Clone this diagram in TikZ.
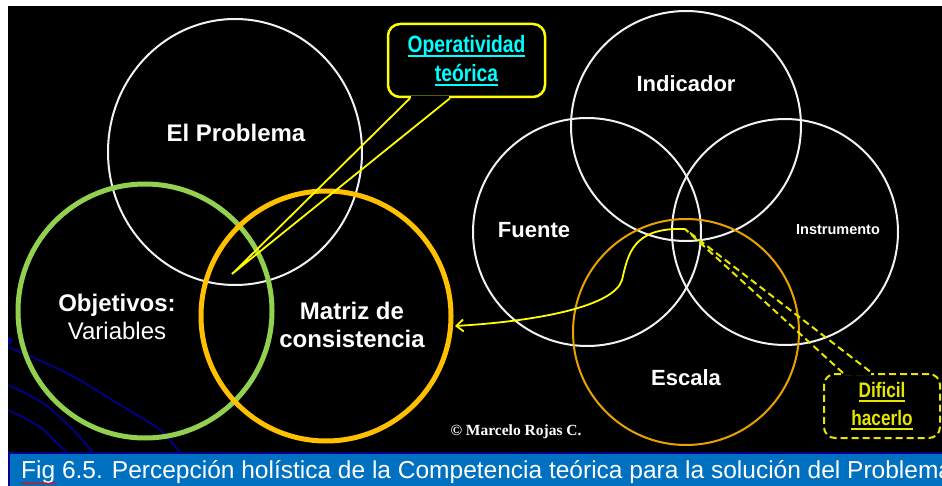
\documentclass[tikz,border=0pt]{standalone}
\usepackage{fontspec}
\setmainfont{Liberation Sans}
\newfontfamily\narrowfont[FakeStretch=0.82]{Liberation Sans}
\newfontfamily\copyfont{Liberation Serif}
\newcommand\thickul[1]{\setbox0\hbox{#1}\leavevmode\rlap{\vrule height -2.2pt depth 4pt width \wd0}\box0}
\usetikzlibrary{arrows.meta,decorations.pathmorphing,calc}
\definecolor{capblue}{HTML}{0070C0}
\definecolor{navyline}{HTML}{00008B}
\definecolor{ringwhite}{HTML}{F2F2F2}
\definecolor{ringgreen}{HTML}{92D050}
\definecolor{ringorange}{HTML}{FFC000}
\definecolor{escorange}{HTML}{E8A300}
\definecolor{calloutyellow}{HTML}{FFFF00}
\definecolor{dashyellow}{HTML}{E6E600}
\definecolor{textcyan}{HTML}{00FFFF}
\definecolor{bgline}{HTML}{000099}
\begin{document}
\begin{tikzpicture}[x=1pt,y=-1pt,
  whitering/.style={draw=ringwhite, line width=2pt},
  thickring/.style={line width=5pt},
  biglabel/.style={text=white, inner sep=0pt, align=center, font=\bfseries\fontsize{24}{28}\selectfont},
  midlabel/.style={text=white, inner sep=0pt, align=center, font=\bfseries\fontsize{22}{26}\selectfont},
  optbox/.style={draw=calloutyellow, line width=2.5pt, rounded corners=12pt, fill=black, text=textcyan, align=center, inner sep=0pt, font=\narrowfont\bfseries\fontsize{23.5}{29}\selectfont},
  difbox/.style={draw=dashyellow, line width=2pt, dash pattern=on 7pt off 4pt, rounded corners=11pt, fill=black, text=dashyellow, align=center, inner sep=0pt, font=\narrowfont\bfseries\fontsize{21}{28}\selectfont},
  bgcurve/.style={draw=bgline, line width=1.6pt}
]
\useasboundingbox (0,0) rectangle (942,486);
\fill[white] (0,0) rectangle (942,486);
\fill[black] (8,6) rectangle (942,452);

% faint background curves
\begin{scope}
\clip (8,6) rectangle (942,452);
\fill[bgline] (8,341) circle [radius=4pt];
\draw[bgcurve] plot[smooth] coordinates {(8,347) (67,373) (117,403) (160,430) (182,455)};
\draw[bgcurve] plot[smooth] coordinates {(8,385) (43,403) (73,430) (95,455)};
\draw[bgcurve] plot[smooth] coordinates {(8,410) (40,427) (69,455)};
\end{scope}

% left group of circles
\draw[whitering] (235,152) ellipse [x radius=127pt, y radius=133pt];
\draw[thickring, draw=ringgreen] (145,311) circle [radius=127pt];
\draw[thickring, draw=ringorange] (326,316) circle [radius=125pt];

% right group of circles
\draw[whitering] (686,126) circle [radius=115pt];
\draw[whitering] (587,232) circle [radius=114pt];
\draw[whitering] (785,232) circle [radius=113pt];
\draw[draw=escorange, line width=2pt] (686,332) circle [radius=113pt];

% labels
\node[biglabel] (lprob) at (236,133) {El Problema};
\node[biglabel] (lobj) at (117,317) {Objetivos:\\\mdseries Variables};
\node[biglabel] (lmat) at (352,325) {Matriz de\\consistencia};
\node[midlabel] (lind) at (686,84) {Indicador};
\node[midlabel] (lfue) at (534,230) {Fuente};
\node[text=white, inner sep=0pt, font=\bfseries\fontsize{14.5}{17}\selectfont] (lins) at (838,230) {Instrumento};
\node[midlabel] (lesc) at (686,378) {Escala};

% tips
\coordinate (tipA) at (232,274);
\coordinate (tipB) at (685,229);

% Operatividad callout
\node[optbox, minimum width=157pt, minimum height=73pt] (opt) at (466.5,60.5) {\thickul{Operatividad}\\\thickul{teórica}};
\draw[black, line width=4pt] ([xshift=-55.5pt]opt.south) -- ([xshift=-17.5pt]opt.south);
\draw[calloutyellow, line width=1.8pt, line join=miter] ([xshift=-56.5pt]opt.south) -- (tipA) -- ([xshift=-16.5pt]opt.south);

% Dificil callout
\node[difbox, minimum width=116pt, minimum height=64pt] (dif) at (882,406) {\thickul{Dificil}\\\thickul{hacerlo}};
\draw[black, line width=4pt] ([xshift=-38pt]dif.north) -- ([xshift=-11pt]dif.north);
\draw[dashyellow, line width=2pt, dash pattern=on 7pt off 4pt] ([xshift=-39pt]dif.north) -- (tipB) -- ([xshift=-10pt]dif.north);

% curved arrow
\coordinate (arrEnd) at (455,326);
\draw[calloutyellow, line width=1.8pt, -{Straight Barb[length=7pt,width=12pt]}] (tipB) .. controls (632,227) and (628,255) .. (622,280) .. controls (614,306) and (540,321) .. (arrEnd);

% copyright
\node[text=white, inner sep=0pt, font=\copyfont\bfseries\fontsize{15.5}{18}\selectfont] (copy) at (516,432) {© Marcelo Rojas C.};

% caption bar
\fill[capblue] (8,452) rectangle (942,486);
\draw[navyline, line width=2pt] (8,452.5) -- (942,452.5);
\draw[navyline, line width=2pt] (9,452) -- (9,486);
\begin{scope}
\clip (10,454) rectangle (942,486);
\node[anchor=base west, inner sep=0pt, text=white, font=\fontsize{24.5}{28}\selectfont] (cap) at (21,478) {Fig 6.5. Percepción holística de la Competencia teórica para la solución del Problema};
\draw[red, line width=0.8pt, decorate, decoration={snake, amplitude=0.9pt, segment length=4pt}] (21,483.5) -- (56,483.5);
\end{scope}
\end{tikzpicture}
\end{document}
